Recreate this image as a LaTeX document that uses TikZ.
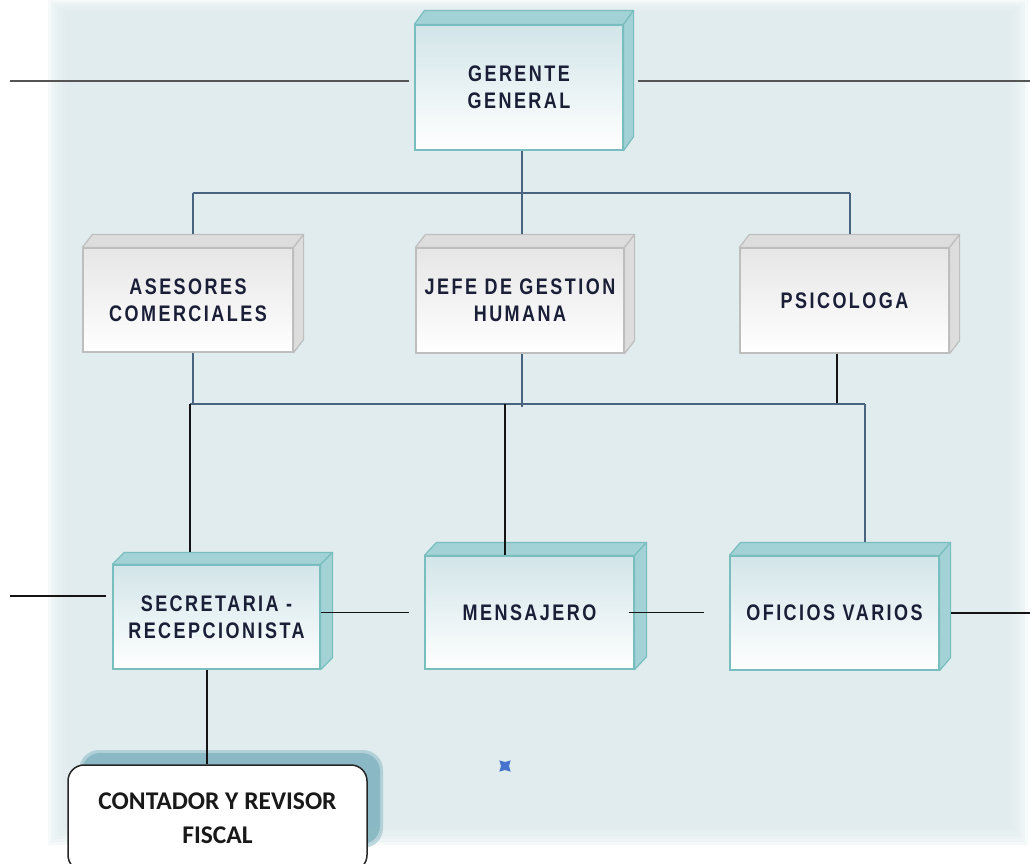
\documentclass[tikz,border=0pt]{standalone}
\usepackage{fontspec}
\newfontfamily\boxfont[FakeStretch=0.8,LetterSpace=11]{Liberation Sans Bold}
\newfontfamily\confont{Carlito Bold}
\usetikzlibrary{shapes.geometric,calc}
\definecolor{panel}{RGB}{224,236,238}
\definecolor{tealtop}{RGB}{210,229,233}
\definecolor{tealside}{RGB}{163,210,214}
\definecolor{tealedge}{RGB}{120,190,190}
\definecolor{graytop}{RGB}{230,230,230}
\definecolor{grayside}{RGB}{221,221,221}
\definecolor{grayedge}{RGB}{190,190,190}
\definecolor{txt}{RGB}{26,30,55}
\definecolor{bluel}{RGB}{72,100,128}
\definecolor{darkl}{RGB}{20,20,20}
\definecolor{greyl}{RGB}{85,85,85}
\definecolor{shadowc}{RGB}{132,182,194}
\definecolor{starblue}{RGB}{70,115,205}
\newcommand{\boxfaces}[4]{%
  \path[#4] (#1.north west) -- ++(#2,#3) -- ([shift={(#2,#3)}]#1.north east) -- (#1.north east) -- cycle;
  \path[#4] (#1.north east) -- ++(#2,#3) -- ([shift={(#2,#3)}]#1.south east) -- (#1.south east) -- cycle;
}
\begin{document}
\begin{tikzpicture}[x=1pt,y=-1pt,
  boxtext/.style={align=center, text=txt, font=\boxfont\fontsize{22.5}{27}\selectfont, inner sep=0pt},
  tealfront/.style={boxtext, draw=tealedge, line width=1.2pt, top color=tealtop, bottom color=white},
  grayfront/.style={boxtext, draw=grayedge, line width=1.2pt, top color=graytop, bottom color=white},
  tealface/.style={fill=tealside, draw=tealedge, line width=1.2pt, line join=round},
  grayface/.style={fill=grayside, draw=grayedge, line width=1.2pt, line join=round},
  blueline/.style={draw=bluel, line width=1.5pt},
  darkline/.style={draw=darkl, line width=1.3pt},
  greyline/.style={draw=greyl, line width=2pt},
  conbox/.style={draw=black!85, line width=1.5pt, fill=white, rounded corners=16pt, align=center,
     text=black!90, font=\confont\fontsize{25.5}{34}\selectfont, inner sep=0pt}
]
\useasboundingbox (0,0) rectangle (1030,863);
\fill[white] (0,0) rectangle (1030,863);
% background panel with soft edges
\foreach \i in {0,...,9}
  \fill[panel, opacity=0.28] (48+3*\i, 0+2*\i) rectangle (1028-3*\i, 845-3*\i);

% ---- boxes ----
\node[tealfront, minimum width=208pt, minimum height=125pt] (ger) at (519,87.5) {GERENTE\\GENERAL};
\boxfaces{ger}{10}{-14}{tealface}

\node[grayfront, minimum width=210pt, minimum height=104pt] (ase) at (188,300) {ASESORES\\COMERCIALES};
\boxfaces{ase}{10}{-13}{grayface}
\node[grayfront, minimum width=208pt, minimum height=105pt] (jefe) at (520,300.5) {JEFE DE GESTION\\HUMANA};
\boxfaces{jefe}{10}{-13}{grayface}
\node[grayfront, minimum width=209pt, minimum height=105pt] (psi) at (844.5,300.5) {PSICOLOGA};
\boxfaces{psi}{10}{-13}{grayface}

\node[tealfront, minimum width=207pt, minimum height=104pt] (sec) at (216.5,617) {SECRETARIA -\\RECEPCIONISTA};
\boxfaces{sec}{12}{-12}{tealface}
\node[tealfront, minimum width=209pt, minimum height=113pt] (men) at (529.5,612.5) {MENSAJERO};
\boxfaces{men}{12}{-13}{tealface}
\node[tealfront, minimum width=209pt, minimum height=114pt] (ofi) at (834.5,613) {OFICIOS VARIOS};
\boxfaces{ofi}{11}{-13}{tealface}

% contador with its shadow
\fill[shadowc, opacity=0.5, rounded corners=20pt] (79,750) rectangle (383,848);
\fill[shadowc, opacity=0.85, rounded corners=18pt] (82,753) rectangle (380,844);
\node[conbox, minimum width=299pt, minimum height=106pt, text depth=0pt] (con) at (217.5,818) {CONTADOR Y REVISOR\\FISCAL};

% small mark
\node[star, star points=4, star point ratio=0.5, fill=starblue, minimum size=8pt, inner sep=0pt] (mark) at (505,766) {};

% ---- connectors ----
\coordinate (gL) at (10,81);
\coordinate (gR) at (1030,81);
\draw[greyline, shorten >=5pt] (gL) -- ([yshift=6.5pt]ger.west);
\draw[greyline, shorten <=14pt] ([yshift=6.5pt]ger.east) -- (gR);

% upper bus
\coordinate (b1L) at (193,193);
\coordinate (b1R) at (850,193);
\coordinate (aseT) at ([shift={(5,-13)}]ase.north);
\coordinate (jefeT) at ([shift={(2,-13)}]jefe.north);
\coordinate (psiT) at ([shift={(5.5,-13)}]psi.north);
\draw[blueline] ([xshift=3pt]ger.south) -- ([xshift=3pt]ger.south |- b1L);
\draw[blueline] (b1L) -- (b1R);
\draw[blueline] (b1L) -- (b1L |- aseT);
\draw[blueline] (jefeT |- b1L) -- (jefeT);
\draw[blueline] (b1R) -- (b1R |- psiT);

% lower bus
\coordinate (b2L) at (190,404);
\coordinate (b2R) at (865,404);
\coordinate (b2M) at (505,404);
\coordinate (secT) at ([yshift=12pt]sec.north);
\coordinate (ofiT) at ([yshift=13pt]ofi.north);
\draw[blueline] ([xshift=5pt]ase.south) -- ([xshift=5pt]ase.south |- b2L);
\draw[blueline] ([xshift=2pt]jefe.south) -- ([xshift=2pt,yshift=-3pt]jefe.south |- b2L);
\draw[darkline] ([xshift=-7.5pt]psi.south) -- ([xshift=-7.5pt]psi.south |- b2L);
\draw[blueline] (b2L) -- (b2R);
\draw[darkline] (b2L) -- (b2L |- secT);
\draw[darkline] (b2M) -- (b2M |- men.north);
\draw[blueline] (b2R) -- (b2R |- ofiT);

% lower horizontals
\coordinate (sL) at (10,596);
\coordinate (oR) at (1030,613);
\draw[darkline, shorten >=6pt] (sL) -- ([yshift=21pt]sec.west);
\draw[darkline, shorten >=15pt] (sec.east |- men.west) -- (men.west);
\draw[darkline, shorten <=-6pt, shorten >=25pt] (men.east) -- (men.east -| ofi.west);
\draw[darkline, shorten <=11pt] (ofi.east) -- (ofi.east -| oR);
\draw[darkline] ([xshift=-9.5pt]sec.south) -- ([xshift=-9.5pt]sec.south |- con.north);
\end{tikzpicture}
\end{document}
